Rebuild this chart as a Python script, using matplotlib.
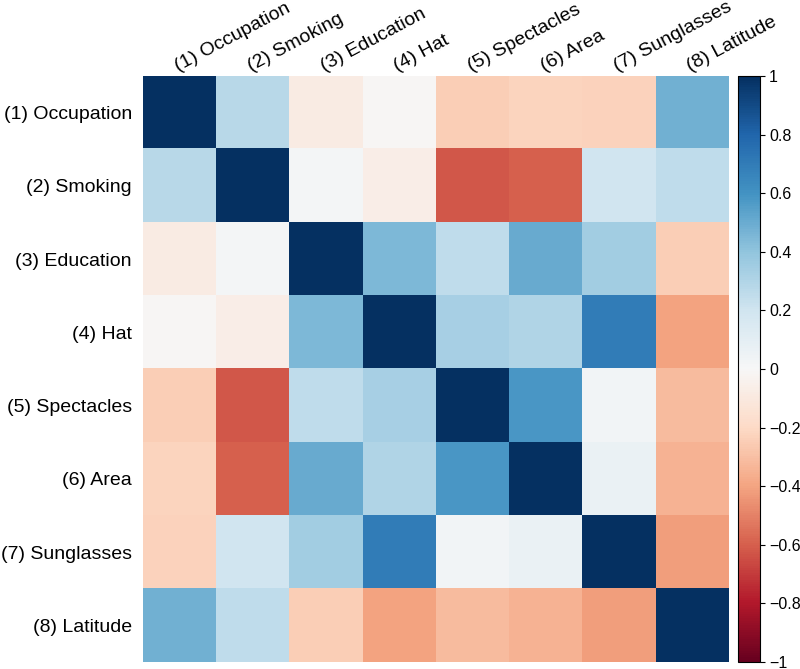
import matplotlib
matplotlib.use("Agg")
import matplotlib.pyplot as plt
import numpy as np

plt.rcParams['font.family'] = ['Liberation Sans', 'DejaVu Sans']

# variable names
labels = ["(1) Occupation", "(2) Smoking", "(3) Education", "(4) Hat",
          "(5) Spectacles", "(6) Area", "(7) Sunglasses", "(8) Latitude"]

# correlation matrix
corr = np.array([
    [1.00, 0.28, -0.08, -0.01, -0.25, -0.22, -0.23, 0.48],
    [0.28, 1.00, 0.02, -0.07, -0.62, -0.60, 0.20, 0.25],
    [-0.08, 0.02, 1.00, 0.45, 0.25, 0.50, 0.35, -0.25],
    [-0.01, -0.07, 0.45, 1.00, 0.33, 0.30, 0.70, -0.40],
    [-0.25, -0.62, 0.25, 0.33, 1.00, 0.58, 0.03, -0.32],
    [-0.22, -0.60, 0.50, 0.30, 0.58, 1.00, 0.07, -0.35],
    [-0.23, 0.20, 0.35, 0.70, 0.03, 0.07, 1.00, -0.42],
    [0.48, 0.25, -0.25, -0.40, -0.32, -0.35, -0.42, 1.00],
])
cbar_ticks = [-1, -0.8, -0.6, -0.4, -0.2, 0, 0.2, 0.4, 0.6, 0.8, 1]
cbar_labels = ["\u22121", "\u22120.8", "\u22120.6", "\u22120.4", "\u22120.2", "0",
               "0.2", "0.4", "0.6", "0.8", "1"]

fig = plt.figure(figsize=(8, 6.69), dpi=100)
ax = fig.add_axes([0.17875, 0.0105, 0.7325, 0.876])
cax = fig.add_axes([0.9225, 0.0105, 0.0275, 0.876])

im = ax.imshow(corr, cmap="RdBu", vmin=-1, vmax=1, aspect="auto")

ax.xaxis.tick_top()
ax.set_xticks(range(len(labels)))
ax.set_yticks(range(len(labels)))
ax.set_xticklabels(labels, rotation=28, ha="left", va="bottom",
                   rotation_mode="anchor", fontsize=14)
ax.set_yticklabels(labels, fontsize=14)
ax.tick_params(axis="x", length=0, pad=1)
ax.tick_params(axis="y", length=0, pad=8)
for s in ax.spines.values():
    s.set_visible(False)

cb = fig.colorbar(im, cax=cax, ticks=cbar_ticks)
cb.ax.set_yticklabels(cbar_labels, fontsize=11.5)
cb.ax.tick_params(length=3.5, width=0.8, pad=3)
cb.outline.set_linewidth(0.8)

fig.savefig("out.png", dpi=100)
